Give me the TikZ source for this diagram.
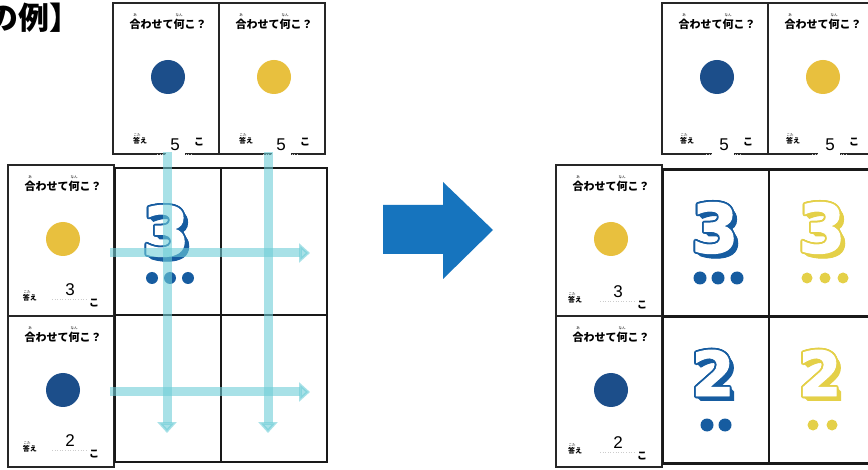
\documentclass[tikz,border=0pt]{standalone}
\usepackage{fontspec}
\setmainfont{Liberation Sans}
\newfontfamily\jp{Noto Sans CJK JP}
\newfontfamily\dig{DejaVu Sans}[BoldFeatures={FakeBold=1.5}]
\usetikzlibrary{arrows.meta,calc}
\definecolor{circBlue}{RGB}{28,78,138}
\definecolor{circYellow}{RGB}{232,192,62}
\definecolor{numBlue}{RGB}{22,92,160}
\definecolor{numYellow}{RGB}{228,208,72}
\definecolor{cyanA}{RGB}{110,205,215}
\definecolor{bigArrow}{RGB}{22,116,190}
\tikzset{
 cardbox/.style={draw=black!85, line width=1.3pt, minimum width=106pt, minimum height=151pt, inner sep=0pt},
 cellbox/.style={draw=black!90, line width=2.4pt, minimum width=106pt, minimum height=147pt, inner sep=0pt},
 ttl/.style={font=\jp\bfseries\fontsize{11}{12}\selectfont, inner sep=0pt},
 furi/.style={font=\jp\fontsize{3.5}{4}\selectfont, inner sep=0pt},
 kt/.style={font=\jp\bfseries\fontsize{7}{8}\selectfont, inner sep=0pt},
 ko/.style={font=\jp\bfseries\fontsize{10}{11}\selectfont, inner sep=0pt},
 ans/.style={font=\fontsize{17}{18}\selectfont, inner sep=0pt},
 ansline/.style={draw=gray!40, dotted, line width=0.6pt},
 disc/.style={circle, inner sep=0pt, minimum size=34pt},
 pip/.style={circle, inner sep=0pt, minimum size=#1},
 flow/.style={draw=cyanA, opacity=0.6, line width=9pt, -{Triangle[width=19pt,length=11pt]}},
}
% card: name, x, y, disc colour, answer, answer y, kotae y, ko y, kotae x
\newcommand\card[9]{%
\begin{scope}[shift={(#2,#3)}]
 \node[cardbox] (#1) at (53,75.5) {};
 \node[ttl] (#1-t) at (55,21) {合わせて何こ？};
 \node[furi] (#1-f1) at (22,12) {あ};
 \node[furi] (#1-f2) at (66,12) {なん};
 \node[disc, fill=#4] (#1-c) at (55,74) {};
 \draw[ansline] (44,#6+9) -- (78,#6+9);
 \node[kt] (#1-k) at (#9,#7) {答え};
 \node[furi] (#1-f3) at (#9-3,#7-6) {こた};
 \node[ans] (#1-n) at (62,#6) {#5};
 \node[ko] (#1-ko) at (86,#8) {こ};
\end{scope}}
% big outlined digit: name, x, y, colour, digit, size
\newcommand\bignum[6]{%
 \foreach \s in {0.5,1,...,4.5}{\node[font={\dig\bfseries\fontsize{#6}{#6}\selectfont}, inner sep=0pt, text=#4] at (#2+\s,#3+\s) {#5};}
 \foreach \a in {0,22.5,...,337.5}{\node[font={\dig\bfseries\fontsize{#6}{#6}\selectfont}, inner sep=0pt, text=#4] at ($(#2,#3)+(\a:1.8)$) {#5};}
 \node[font={\dig\bfseries\fontsize{#6}{#6}\selectfont}, inner sep=0pt, text=white] (#1) at (#2,#3) {#5};}
\begin{document}
\begin{tikzpicture}[x=1pt,y=-1pt]
\useasboundingbox (0,0) rectangle (868,470);
\fill[white] (0,0) rectangle (868,470);
% heading
\node[font={\jp\bfseries\fontsize{31}{33}\selectfont}, anchor=west, inner sep=0pt] (head) at (-13,18) {の例】};
% ---------- left group ----------
\card{A1}{113}{3}{circBlue}{5}{142}{138}{139}{27}
\card{A2}{219}{3}{circYellow}{5}{142}{138}{139}{27}
\card{B1}{8}{165}{circYellow}{3}{125}{133}{138}{22}
\card{B2}{8}{316}{circBlue}{2}{125}{133}{138}{22}
\fill[white] ($(A1.south west)+(54,-2)$) rectangle ++(19,4);
\fill[white] ($(A2.south west)+(54,-2)$) rectangle ++(19,4);
\node[cellbox] (L11) at (168,241.5) {};
\node[cellbox] (L12) at (274,241.5) {};
\node[cellbox] (L21) at (168,388.5) {};
\node[cellbox] (L22) at (274,388.5) {};
\bignum{L3}{166}{231}{numBlue}{3}{68}
\node[pip=12pt, fill=numBlue] (Ld1) at (152,278) {};
\node[pip=12pt, fill=numBlue] (Ld2) at (170,278) {};
\node[pip=12pt, fill=numBlue] (Ld3) at (188,278) {};
% flow arrows
\coordinate (v1s) at (167,152); \coordinate (v1e) at (167,433);
\coordinate (v2s) at (268,152); \coordinate (v2e) at (268,433);
\coordinate (h1s) at (110,253); \coordinate (h1e) at (310,253);
\coordinate (h2s) at (110,392); \coordinate (h2e) at (310,392);
\draw[flow] (v1s) -- (v1e);
\draw[flow] (v2s) -- (v2e);
\draw[flow] (h1s) -- (h1e);
\draw[flow] (h2s) -- (h2e);
% big arrow
\fill[bigArrow] (383,205) -- (443,205) -- (443,182) -- (493,230) -- (443,279) -- (443,254) -- (383,254) -- cycle;
% ---------- right group ----------
\card{C1}{662}{3}{circBlue}{5}{142}{138}{139}{25}
\card{C2}{768}{3}{circYellow}{5}{142}{138}{139}{25}
\card{D1}{556}{165}{circYellow}{3}{127}{135}{140}{19}
\card{D2}{556}{316}{circBlue}{2}{127}{135}{140}{19}
\fill[white] ($(C1.south west)+(51,-2)$) rectangle ++(22,4);
\fill[white] ($(C2.south west)+(51,-2)$) rectangle ++(22,4);
\node[cellbox] (R11) at (716,243) {};
\node[cellbox] (R12) at (822,243) {};
\node[cellbox] (R21) at (716,390) {};
\node[cellbox] (R22) at (822,390) {};
\bignum{R3b}{715}{228}{numBlue}{3}{68}
\bignum{R3y}{822}{228}{numYellow}{3}{68}
\bignum{R2b}{713}{373}{numBlue}{2}{62}
\bignum{R2y}{820}{373}{numYellow}{2}{62}
\node[pip=13pt, fill=numBlue] (Rb1) at (700,278) {};
\node[pip=13pt, fill=numBlue] (Rb2) at (718,278) {};
\node[pip=13pt, fill=numBlue] (Rb3) at (737,278) {};
\node[pip=11pt, fill=numYellow] (Ry1) at (807,278) {};
\node[pip=11pt, fill=numYellow] (Ry2) at (825,278) {};
\node[pip=11pt, fill=numYellow] (Ry3) at (843,278) {};
\node[pip=13pt, fill=numBlue] (Rc1) at (707,425) {};
\node[pip=13pt, fill=numBlue] (Rc2) at (725,425) {};
\node[pip=11pt, fill=numYellow] (Rz1) at (813,425) {};
\node[pip=11pt, fill=numYellow] (Rz2) at (832,425) {};
\end{tikzpicture}
\end{document}
